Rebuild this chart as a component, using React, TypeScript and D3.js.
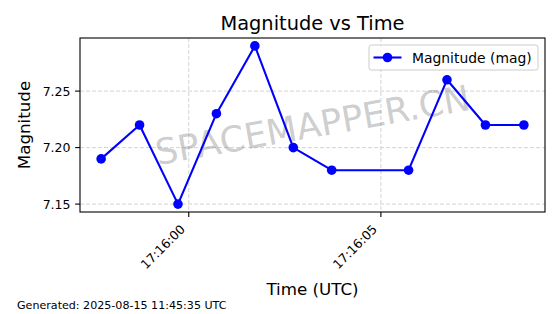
import React from "react";
import * as d3 from "d3";

const times: string[] = [
  "2025-08-15T17:15:57.720Z",
  "2025-08-15T17:15:58.720Z",
  "2025-08-15T17:15:59.720Z",
  "2025-08-15T17:16:00.720Z",
  "2025-08-15T17:16:01.720Z",
  "2025-08-15T17:16:02.720Z",
  "2025-08-15T17:16:03.720Z",
  "2025-08-15T17:16:05.720Z",
  "2025-08-15T17:16:06.720Z",
  "2025-08-15T17:16:07.720Z",
  "2025-08-15T17:16:08.720Z",
];
const magnitudes: number[] = [7.19, 7.22, 7.15, 7.23, 7.29, 7.2, 7.18, 7.18, 7.26, 7.22, 7.22];
const xTicks: string[] = ["2025-08-15T17:16:00Z", "2025-08-15T17:16:05Z"];
const yTicks: number[] = [7.15, 7.2, 7.25];

const W = 560;
const H = 314;
const left = 80;
const right = 545;
const top = 38;
const bottom = 212;
const FONT = "DejaVu Sans, sans-serif";

export default function App() {
  const dates = times.map((t) => new Date(t));
  const [t0, t1] = d3.extent(dates) as [Date, Date];
  const span = +t1 - +t0;
  const x = d3
    .scaleUtc()
    .domain([new Date(+t0 - span * 0.05), new Date(+t1 + span * 0.05)])
    .range([left, right]);
  const [m0, m1] = d3.extent(magnitudes) as [number, number];
  const mr = m1 - m0;
  const y = d3
    .scaleLinear()
    .domain([m0 - mr * 0.05, m1 + mr * 0.05])
    .range([bottom, top]);
  const fmt = d3.utcFormat("%H:%M:%S");
  const line = d3
    .line<number>()
    .x((_, i) => x(dates[i]))
    .y((d) => y(d));
  const xt = xTicks.map((t) => new Date(t));

  return (
    <svg
      width={W}
      height={H}
      style={{ position: "absolute", left: 0, top: 0, background: "#fff" }}
      fontFamily={FONT}
    >
      <rect x={0} y={0} width={W} height={H} fill="#fff" />
      {/* grid */}
      {xt.map((t, i) => (
        <line
          key={"gx" + i}
          x1={x(t)}
          x2={x(t)}
          y1={top}
          y2={bottom}
          stroke="#c8c8c8"
          strokeWidth={0.8}
          strokeDasharray="4,2"
        />
      ))}
      {yTicks.map((v, i) => (
        <line
          key={"gy" + i}
          x1={left}
          x2={right}
          y1={y(v)}
          y2={y(v)}
          stroke="#c8c8c8"
          strokeWidth={0.8}
          strokeDasharray="4,2"
        />
      ))}
      {/* watermark */}
      <text
        x={(left + right) / 2}
        y={(top + bottom) / 2}
        transform={`rotate(-10 ${(left + right) / 2} ${(top + bottom) / 2})`}
        textAnchor="middle"
        dominantBaseline="central"
        fontSize={35.5}
        fill="#808080"
        fillOpacity={0.4}
      >
        SPACEMAPPER.CN
      </text>
      {/* data */}
      <path d={line(magnitudes) || ""} fill="none" stroke="#0000ff" strokeWidth={2.1} strokeLinejoin="round" />
      {magnitudes.map((m, i) => (
        <circle key={"p" + i} cx={x(dates[i])} cy={y(m)} r={4.8} fill="#0000ff" />
      ))}
      {/* spines */}
      <rect x={left} y={top} width={right - left} height={bottom - top} fill="none" stroke="#000" strokeWidth={1.1} />
      {/* x ticks */}
      {xt.map((t, i) => (
        <g key={"xt" + i}>
          <line x1={x(t)} x2={x(t)} y1={bottom} y2={bottom + 4.9} stroke="#000" strokeWidth={1.1} />
          <text
            x={x(t) - 3}
            y={bottom + 18}
            transform={`rotate(-45 ${x(t) - 3} ${bottom + 18})`}
            textAnchor="end"
            fontSize={12.5}
            fill="#000"
          >
            {fmt(t)}
          </text>
        </g>
      ))}
      {/* y ticks */}
      {yTicks.map((v, i) => (
        <g key={"yt" + i}>
          <line x1={left - 4.9} x2={left} y1={y(v)} y2={y(v)} stroke="#000" strokeWidth={1.1} />
          <text x={left - 9.5} y={y(v)} dy="0.36em" textAnchor="end" fontSize={12.5} fill="#000">
            {v.toFixed(2)}
          </text>
        </g>
      ))}
      {/* title and labels */}
      <text x={(left + right) / 2} y={30} textAnchor="middle" fontSize={19.4} fill="#000">
        Magnitude vs Time
      </text>
      <text x={(left + right) / 2} y={295} textAnchor="middle" fontSize={16.7} fill="#000">
        Time (UTC)
      </text>
      <text
        x={30}
        y={(top + bottom) / 2}
        transform={`rotate(-90 30 ${(top + bottom) / 2})`}
        textAnchor="middle"
        fontSize={16.7}
        fill="#000"
      >
        Magnitude
      </text>
      {/* legend */}
      <rect x={369} y={45} width={169} height={25} rx={2.5} fill="#fff" fillOpacity={0.8} stroke="#cccccc" strokeWidth={1} />
      <line x1={373.5} x2={401.5} y1={57.5} y2={57.5} stroke="#0000ff" strokeWidth={2.1} />
      <circle cx={387.5} cy={57.5} r={4.8} fill="#0000ff" />
      <text x={412} y={62.5} fontSize={13.9} fill="#000">
        Magnitude (mag)
      </text>
      {/* footer */}
      <text x={17} y={309} fontSize={11.1} fill="#000">
        Generated: 2025-08-15 11:45:35 UTC
      </text>
    </svg>
  );
}
